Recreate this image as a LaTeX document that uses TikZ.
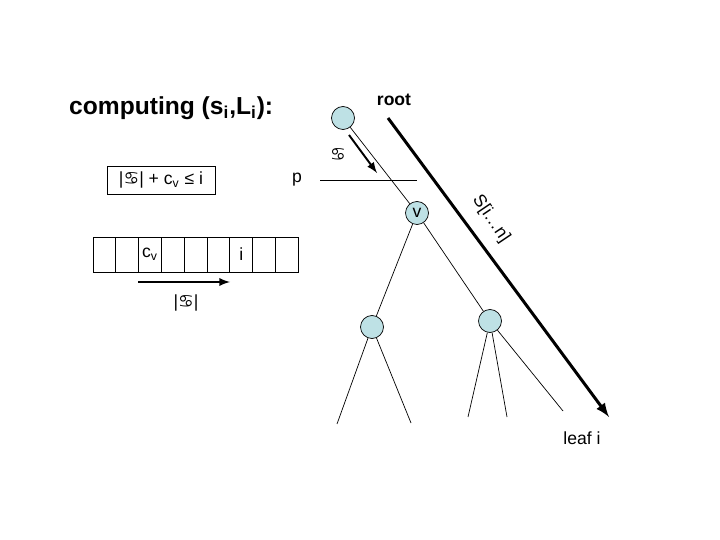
\documentclass[tikz,border=0pt]{standalone}
\usepackage{fontspec}
\setmainfont{Liberation Sans}
\newfontfamily\symfont{DejaVu Sans}
\usetikzlibrary{arrows.meta,positioning}
\definecolor{nodeblue}{RGB}{190,225,229}
\newcommand{\crabsym}{{\symfont\char"264B}}

\begin{document}
\begin{tikzpicture}[>=latex,x=0.02cm,y=-0.02cm]
\tikzstyle{vertex}=[draw, circle, fill=nodeblue, inner sep=0pt, minimum size=0.46cm]
\tikzstyle{lbl}=[font=\fontsize{10}{12}\selectfont]
\tikzstyle{cell}=[draw, minimum width=0.456cm, minimum height=0.7cm, inner sep=0pt, outer sep=0pt, font=\fontsize{10}{12}\selectfont]

\useasboundingbox (0,0) rectangle (720,540);

% title
\node[anchor=west, font=\bfseries\fontsize{14}{17}\selectfont] (title) at (63,108) {computing (s\textsubscript{i},L\textsubscript{i}):};

% condition box
\node[draw, lbl, minimum width=2.16cm, minimum height=0.5cm] (cond) at (161,180) {|\crabsym| + c\textsubscript{v} ≤ i};

% array
\foreach \k/\txt in {0/,1/,2/c\textsubscript{v},3/,4/,5/,6/i,7/,8/}
  \node[cell] (c\k) at (104.4+22.8*\k,254.5) {\txt};
\coordinate (ga) at (138,282);
\coordinate (gb) at (230,282);
\draw[->, line width=1.1pt] (ga) -- (gb);
\node[lbl] (glen) at (186,303) {|\crabsym|};

% tree
\node[vertex] (top) at (343,118) {};
\node[vertex, lbl] (v) at (417,213) {v};
\node[vertex] (lc) at (372,327) {};
\node[vertex] (rc) at (490,321) {};
\coordinate (l1) at (337,424);
\coordinate (l2) at (411,423);
\coordinate (r1) at (468,417);
\coordinate (r2) at (507,417);
\coordinate (r3) at (563,411);
\draw (top) -- (v);
\draw (v) -- (lc);
\draw (v) -- (rc);
\draw (lc) -- (l1);
\draw (lc) -- (l2);
\draw (rc) -- (r1);
\draw (rc) -- (r2);
\draw (rc) -- (r3);

% p line and step arrow
\node[lbl] (p) at (297,180) {p};
\coordinate (pa) at (320,180);
\coordinate (pb) at (417,180);
\draw (pa) -- (pb);
\coordinate (aa) at (349,135);
\coordinate (ab) at (377,173);
\draw[->, line width=1.1pt] (aa) -- (ab);
\node[lbl] (stepl) at (338,155) {\crabsym};

% root to leaf
\node[lbl, font=\bfseries\fontsize{10}{12}\selectfont] (root) at (394,100) {root};
\coordinate (rs) at (388,118);
\coordinate (re) at (609,417);
\draw[->, line width=1.7pt] (rs) -- (re);
\node[lbl, rotate=-56] (suffix) at (491,219) {S[i…n]};
\node[lbl] (leaf) at (582,438) {leaf i};

\end{tikzpicture}
\end{document}
